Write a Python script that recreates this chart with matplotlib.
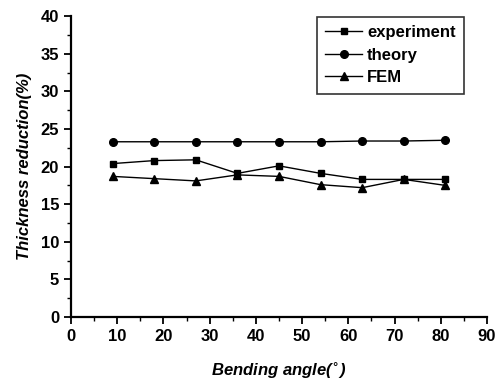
import matplotlib
matplotlib.use("Agg")
import matplotlib.pyplot as plt
from matplotlib.ticker import MultipleLocator

angles = [9, 18, 27, 36, 45, 54, 63, 72, 81]
experiment = [20.4, 20.8, 20.9, 19.1, 20.1, 19.1, 18.3, 18.3, 18.3]
theory = [23.3, 23.3, 23.3, 23.3, 23.3, 23.3, 23.4, 23.4, 23.5]
fem = [18.7, 18.4, 18.1, 18.9, 18.7, 17.6, 17.2, 18.3, 17.5]

plt.rcParams['font.family'] = ['Liberation Sans', 'DejaVu Sans']
plt.rcParams['font.weight'] = 'bold'

fig = plt.figure(figsize=(5.0, 3.83), dpi=100)
ax = fig.add_axes([0.142, 0.172, 0.832, 0.786])

ax.plot(angles, experiment, color='black', marker='s', markersize=5, lw=1, label='experiment')
ax.plot(angles, theory, color='black', marker='o', markersize=5.5, lw=1, label='theory')
ax.plot(angles, fem, color='black', marker='^', markersize=6, lw=1, label='FEM')

ax.set_xlim(0, 90)
ax.set_ylim(0, 40)
ax.xaxis.set_major_locator(MultipleLocator(10))
ax.xaxis.set_minor_locator(MultipleLocator(5))
ax.yaxis.set_major_locator(MultipleLocator(5))
ax.yaxis.set_minor_locator(MultipleLocator(2.5))
for s in ['top', 'right']:
    ax.spines[s].set_visible(False)
for s in ['left', 'bottom']:
    ax.spines[s].set_linewidth(1.6)
ax.tick_params(which='major', length=5, width=1.3, labelsize=12)
ax.tick_params(which='minor', length=3, width=1.0)
for lab in ax.get_xticklabels() + ax.get_yticklabels():
    lab.set_fontweight('bold')

ax.set_xlabel('Bending angle($^{\\circ}$)', fontsize=12, fontweight='bold', style='italic', labelpad=12)
ax.set_ylabel('Thickness reduction(%)', fontsize=12, fontweight='bold', style='italic', labelpad=6)

leg = ax.legend(loc='upper right', bbox_to_anchor=(0.965, 1.025), frameon=True, fancybox=False,
                edgecolor='black', fontsize=12, handlelength=2.2, borderpad=0.5, labelspacing=0.45,
                handletextpad=0.3)
leg.get_frame().set_linewidth(1.2)
for t in leg.get_texts():
    t.set_fontweight('bold')

fig.savefig('out.png', dpi=100)
